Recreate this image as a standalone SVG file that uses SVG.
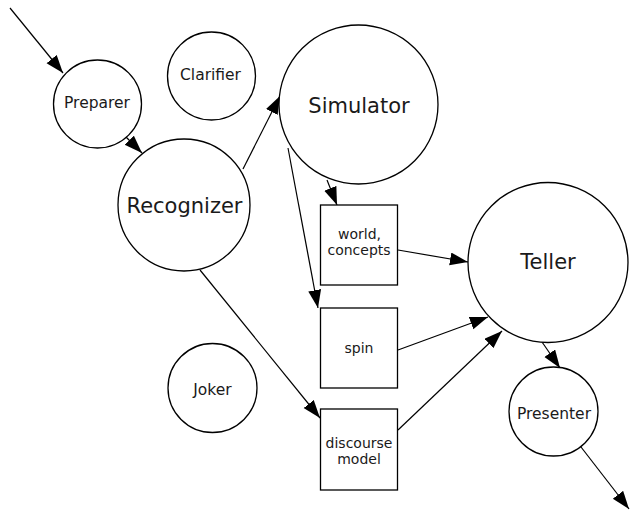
<svg xmlns="http://www.w3.org/2000/svg" width="630" height="510" viewBox="0 0 630 510">
  <style>
    .node circle, .node rect { fill: #ffffff; stroke: #000000; stroke-width: 1.3; }
    .edge { fill: none; stroke: #000000; stroke-width: 1.2; marker-end: url(#head); }
    text { font-family: "DejaVu Sans", "Liberation Sans", sans-serif; fill: #1a1a1a; text-anchor: middle; }
    .big { font-size: 21px; }
    .mid { font-size: 15.5px; }
    .box { font-size: 14px; }
  </style>
  <defs>
    <marker id="head" markerUnits="userSpaceOnUse" markerWidth="19" markerHeight="14" refX="18" refY="6.5" orient="auto">
      <path d="M0,0 L18,6.5 L0,13 z" fill="#000000"/>
    </marker>
  </defs>
  <rect width="630" height="510" fill="#ffffff"/>

  <!-- connectors -->
  <g id="edges">
    <line class="edge" x1="10" y1="8" x2="63" y2="73"/>
    <line class="edge" x1="124" y1="135" x2="142" y2="153"/>
    <line class="edge" x1="243" y1="169" x2="280" y2="96"/>
    <line class="edge" x1="327" y1="180" x2="337" y2="205"/>
    <line class="edge" x1="288" y1="148" x2="318" y2="308"/>
    <line class="edge" x1="200" y1="270" x2="320" y2="418"/>
    <line class="edge" x1="398" y1="250" x2="468" y2="262"/>
    <line class="edge" x1="398" y1="350" x2="488" y2="317"/>
    <line class="edge" x1="398" y1="430" x2="502" y2="331"/>
    <line class="edge" x1="542" y1="342" x2="560" y2="368"/>
    <line class="edge" x1="581" y1="447" x2="629" y2="509"/>
  </g>

  <!-- label fragment running off the left edge -->
  <text class="big" x="-6" y="219">s</text>

  <g id="preparer" class="node">
    <circle cx="97.5" cy="104" r="44"/>
    <text class="mid" x="97" y="108">Preparer</text>
  </g>
  <g id="clarifier" class="node">
    <circle cx="211.5" cy="76" r="44"/>
    <text class="mid" x="210.5" y="80">Clarifier</text>
  </g>
  <g id="recognizer" class="node">
    <circle cx="184" cy="205" r="66"/>
    <text class="big" x="184.5" y="213">Recognizer</text>
  </g>
  <g id="joker" class="node">
    <circle cx="212.5" cy="388" r="44.5"/>
    <text class="mid" x="212.5" y="395">Joker</text>
  </g>
  <g id="simulator" class="node">
    <circle cx="358.5" cy="104.5" r="79.5"/>
    <text class="big" x="359" y="113">Simulator</text>
  </g>
  <g id="world-concepts" class="node">
    <rect x="320.5" y="205" width="77" height="80"/>
    <text class="box" x="359.5" y="239">world,</text>
    <text class="box" x="359" y="255">concepts</text>
  </g>
  <g id="spin" class="node">
    <rect x="320.5" y="308" width="77" height="80"/>
    <text class="box" x="359" y="353">spin</text>
  </g>
  <g id="discourse-model" class="node">
    <rect x="320.5" y="409" width="77" height="81"/>
    <text class="box" x="359" y="448">discourse</text>
    <text class="box" x="359" y="464">model</text>
  </g>
  <g id="teller" class="node">
    <circle cx="548" cy="262.5" r="80"/>
    <text class="big" x="548" y="269">Teller</text>
  </g>
  <g id="presenter" class="node">
    <circle cx="553.5" cy="411.5" r="44.5"/>
    <text class="mid" x="554" y="419">Presenter</text>
  </g>
</svg>
